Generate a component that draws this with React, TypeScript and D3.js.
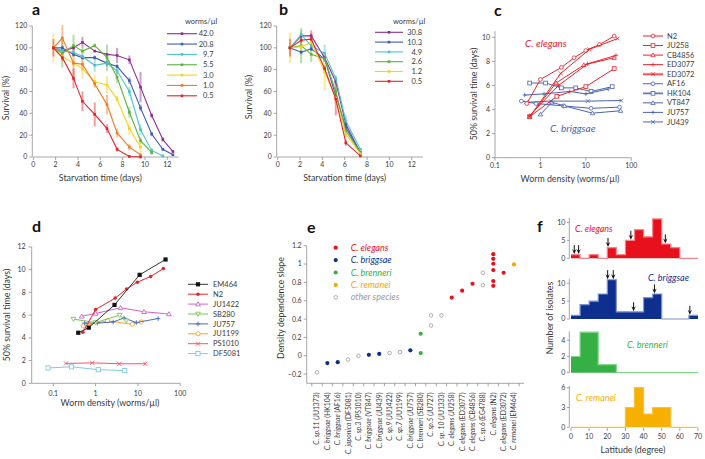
import React from 'react';
import * as d3 from 'd3';

const FONT = "Lato, 'Liberation Sans', Arial, sans-serif";
const AXIS = '#8f8f8f';
const TXT = '#3a3a3a';

// ---------- Panel a ----------
const aLabels = ['42.0', '20.8', '9.7', '5.5', '3.0', '1.0', '0.5'];
const aColors = ['#8e2d8f', '#3d5bb6', '#4cc3cb', '#5db43c', '#f4d31b', '#f07b24', '#e4212b'];
const aDays = [1.8, 2.6, 3.6, 4.4, 5.5, 6.6, 7.5, 8.6, 9.6, 10.6, 11.6, 12.5];
const aS420 = [100, 97, 100, 105, 97, 94, 93, 89, 64, 38, 16, 5];
const aS208 = [100, 100, 94, 91, 91, 86, 83, 70, 45, 21, 7, 2];
const aS97 = [100, 97, 96, 92, 84, 86, 79, 60, 25, 6, 1];
const aS55 = [100, 95, 102, 97, 102, 91, 73, 41, 15, 4];
const aS30 = [100, 92, 86, 81, 69, 66, 53, 26, 9];
const aS10 = [100, 109, 86, 85, 67, 48, 22, 9, 2];
const aS05 = [100, 91, 72, 51, 39, 26, 7, 0.5, 0];
const aE420 = [0, 0, 2, 5, 0, 0, 7, 4, 14, 2, 2, 1];
const aE208 = [0, 2, 2, 2, 2, 2, 2, 3, 3, 2, 1, 1];
const aE97 = [0, 2, 2, 3, 6, 3, 3, 4, 5, 2, 1];
const aE55 = [0, 13, 10, 3, 2, 12, 5, 5, 3, 2];
const aE30 = [13, 4, 3, 9, 6, 8, 3, 6, 5];
const aE10 = [0, 12, 13, 6, 3, 9, 4, 3, 1];
const aE05 = [8, 3, 9, 9, 11, 4, 2, 1, 1];

// ---------- Panel b ----------
const bLabels = ['30.8', '10.3', '4.9', '2.6', '1.2', '0.5'];
const bColors = ['#8e2d8f', '#3d5bb6', '#4cc3cb', '#5db43c', '#f4d31b', '#e4212b'];
const bDays = [1.1, 2.1, 3.0, 4.2, 5.2, 6.1, 7.4];
const bS308 = [100, 111, 111, 91, 69, 30, 4];
const bS103 = [100, 96, 99, 90, 56, 27, 4];
const bS49 = [100, 112, 102, 95, 72, 33, 7];
const bS26 = [100, 102, 94, 90, 60, 24, 4];
const bS12 = [100, 101, 105, 78, 54, 21, 3];
const bS05 = [100, 107, 108, 81, 53, 13, 1];
const bE308 = [0, 2, 2, 3, 3, 3, 1];
const bE103 = [0, 2, 2, 3, 3, 3, 1];
const bE49 = [0, 4, 3, 8, 3, 5, 1];
const bE26 = [0, 16, 7, 3, 3, 3, 1];
const bE12 = [14, 4, 3, 17, 5, 3, 1];
const bE05 = [8, 3, 8, 3, 15, 3, 1];

// ---------- Panel c ----------
const cStrains = ['N2', 'JU258', 'CB4856', 'ED3077', 'ED3072', 'AF16', 'HK104', 'VT847', 'JU757', 'JU439'];
const cShapes = ['circle', 'square', 'triangle', 'plus', 'x', 'circle', 'square', 'triangle', 'plus', 'x'];
const cRed = '#e8232c';
const cBlue = '#4a63b3';
const cDensN2 = [0.5, 1, 2.9, 5.5, 10, 20, 42];
const cTimeN2 = [4.5, 6.5, 7.5, 8.3, 8.9, 9.4, 10.1];
const cDensJU258 = [0.58, 2.3, 10, 42];
const cTimeJU258 = [3.4, 5.1, 5.9, 7.4];
const cDensCB4856 = [0.58, 2.2, 9, 42];
const cTimeCB4856 = [3.4, 6.2, 7.7, 8.3];
const cDensED3077 = [0.58, 2.5, 11, 46];
const cTimeED3077 = [3.5, 6.0, 7.8, 8.5];
const cDensED3072 = [0.58, 2.8, 12, 50];
const cTimeED3072 = [3.4, 7.0, 9.0, 9.9];
const cDensAF16 = [0.38, 0.8, 3.2, 13, 55];
const cTimeAF16 = [4.7, 4.5, 4.3, 4.1, 4.2];
const cDensHK104 = [0.58, 1.3, 2.9, 6, 13, 38];
const cTimeHK104 = [6.2, 6.2, 5.8, 5.8, 5.5, 5.9];
const cDensVT847 = [1.0, 1.8, 3.4, 14, 58];
const cTimeVT847 = [3.6, 4.6, 4.3, 3.7, 3.9];
const cDensJU757 = [0.45, 1.2, 4.4, 10, 31];
const cTimeJU757 = [5.2, 5.3, 5.5, 5.3, 5.7];
const cDensJU439 = [0.48, 1.7, 11, 60];
const cTimeJU439 = [4.6, 4.7, 4.7, 4.75];

// ---------- Panel d ----------
const dStrains = ['EM464', 'N2', 'JU1422', 'SB280', 'JU757', 'JU1199', 'PS1010', 'DF5081'];
const dShapes = ['fsquare', 'fcircle', 'triangle', 'tridown', 'plus', 'circle', 'x', 'square'];
const dColors = ['#111111', '#e8232c', '#d363c6', '#7fc24c', '#4b6bbf', '#f2a526', '#ec5a68', '#7fc9e3'];
const dDensEM464 = [0.39, 0.69, 2.8, 11, 45];
const dTimeEM464 = [4.45, 4.9, 6.9, 9.55, 10.9];
const dDensN2 = [0.5, 1.0, 2.9, 5.4, 9.7, 20, 40];
const dTimeN2 = [4.5, 6.5, 7.5, 8.3, 8.9, 9.4, 10.1];
const dDensJU1422 = [0.47, 1.0, 3.9, 14, 54];
const dTimeJU1422 = [5.9, 6.15, 6.65, 6.3, 6.1];
const dDensSB280 = [0.3, 1.0, 3.7, 5.3];
const dTimeSB280 = [5.65, 5.35, 6.0, 5.5];
const dDensJU757 = [0.55, 1.1, 2.6, 4.7, 9.2, 30];
const dTimeJU757 = [5.3, 5.3, 5.4, 5.75, 5.35, 5.7];
const dDensJU1199 = [0.51, 1.9, 7.4, 12];
const dTimeJU1199 = [5.05, 5.5, 5.2, 5.4];
const dDensPS1010 = [0.2, 0.83, 3.6, 15];
const dTimePS1010 = [1.75, 1.8, 1.72, 1.72];
const dDensDF5081 = [0.075, 0.27, 1.16, 4.9];
const dTimeDF5081 = [1.35, 1.45, 1.2, 1.12];

// ---------- Panel e ----------
const eSpecies = ['C. sp.11', 'C. briggsae', 'C. briggsae', 'C. japonica', 'C. sp.3', 'C. briggsae', 'C. briggsae', 'C. sp.9', 'C. sp.7', 'C. briggsae', 'C. brenneri', 'C. sp.5', 'C. sp. 10', 'C. elegans', 'C. elegans', 'C. elegans', 'C. sp.6', 'C. elegans', 'C. elegans', 'C. remanei'];
const eStrains = ['JU1373', 'HK104', 'AF16', 'DF5081', 'PS1010', 'VT847', 'JU439', 'JU1422', 'JU1199', 'JU757', 'SB280', 'JU727', 'JU1333', 'JU258', 'ED3077', 'CB4856', 'EG4788', 'N2', 'ED3072', 'EM464'];
const eGroups = ['other', 'briggsae', 'briggsae', 'other', 'other', 'briggsae', 'briggsae', 'other', 'other', 'briggsae', 'brenneri', 'other', 'other', 'elegans', 'elegans', 'elegans', 'other', 'elegans', 'elegans', 'remanei'];
const eSlopes = [[-0.18], [-0.08], [-0.07], [-0.04], [0.0], [0.01], [0.02], [0.03], [0.04], [0.06], [0.24, 0.03], [0.44, 0.33], [0.44], [0.635], [0.71], [0.785], [0.905, 0.77], [1.108, 1.057, 1.003, 0.934, 0.814, 0.763], [0.905], [0.996]];
const eLegendKeys = ['elegans', 'briggsae', 'brenneri', 'remanei', 'other'];
const eLegendText = ['C. elegans', 'C. briggsae', 'C. brenneri', 'C. remanei', 'other species'];
const eColors: Record<string, string> = { elegans: '#e8101c', briggsae: '#0f2f8e', brenneri: '#35b045', remanei: '#f6a800', other: '#9a9a9a' };
const eTicks = [1.2, 1, 0.8, 0.6, 0.4, 0.2, 0, -0.2];
const eTickLabels = ['1.2', '1', '0.8', '0.6', '0.4', '0.2', '0', '\u22120.2'];

// ---------- Panel f ----------
const fBinStarts = [0, 5, 10, 15, 20, 25, 30, 35, 40, 45, 50, 55, 60, 65];
const fElegans = [1, 0, 1, 0, 3, 1, 5, 8, 6, 11, 4, 3, 0, 0];
const fBriggsae = [1, 4, 5, 7, 11, 2, 2, 2, 6, 7, 0, 0, 0, 1];
const fBrenneri = [2, 5, 5, 1, 1, 0, 0, 0, 0, 0, 0, 0, 0, 0];
const fRemanei = [0, 0, 0, 0, 0, 0, 3, 6, 2, 3, 3, 0, 0, 0];
const fElegansArrows = [1.8, 4.2, 20.4, 33, 52];
const fBriggsaeArrows = [20.2, 23.3, 34.5, 46, 65.5];
const fLatTicks = [0, 10, 20, 30, 40, 50, 60, 70];

function Marker({ shape, x, y, color, size = 4, sw = 0.9 }: any) {
  const h = size / 2;
  switch (shape) {
    case 'fsquare':
      return <rect x={x - h} y={y - h} width={size} height={size} fill={color} />;
    case 'square':
      return <rect x={x - h} y={y - h} width={size} height={size} fill="white" stroke={color} strokeWidth={sw} />;
    case 'fcircle':
      return <circle cx={x} cy={y} r={h} fill={color} />;
    case 'circle':
      return <circle cx={x} cy={y} r={h} fill="white" stroke={color} strokeWidth={sw} />;
    case 'triangle':
      return <path d={`M${x},${y - h * 1.1}L${x + h * 1.15},${y + h * 0.85}L${x - h * 1.15},${y + h * 0.85}Z`} fill="white" stroke={color} strokeWidth={sw} />;
    case 'tridown':
      return <path d={`M${x},${y + h * 1.1}L${x + h * 1.15},${y - h * 0.85}L${x - h * 1.15},${y - h * 0.85}Z`} fill="white" stroke={color} strokeWidth={sw} />;
    case 'plus':
      return <path d={`M${x - h * 1.1},${y}H${x + h * 1.1}M${x},${y - h * 1.1}V${y + h * 1.1}`} stroke={color} strokeWidth={sw} fill="none" />;
    case 'x':
      return <path d={`M${x - h},${y - h}L${x + h},${y + h}M${x - h},${y + h}L${x + h},${y - h}`} stroke={color} strokeWidth={sw} fill="none" />;
    default:
      return null;
  }
}

function XAxis({ scale, y, ticks, labels, from, to, fs = 7, tickLen = 3, labelDy = 10 }: any) {
  return (
    <g>
      <line x1={scale(from)} x2={scale(to)} y1={y} y2={y} stroke={AXIS} strokeWidth={0.8} />
      {ticks.map((t: number, i: number) => (
        <g key={i}>
          <line x1={scale(t)} x2={scale(t)} y1={y} y2={y + tickLen} stroke={AXIS} strokeWidth={0.8} />
          <text x={scale(t)} y={y + labelDy} textAnchor="middle" fontSize={fs} fill={TXT}>{labels[i]}</text>
        </g>
      ))}
    </g>
  );
}

function YAxis({ scale, x, ticks, labels, from, to, fs = 7, tickLen = 3, gap = 2 }: any) {
  return (
    <g>
      <line x1={x} x2={x} y1={scale(from)} y2={scale(to)} stroke={AXIS} strokeWidth={0.8} />
      {ticks.map((t: number, i: number) => (
        <g key={i}>
          <line x1={x - tickLen} x2={x} y1={scale(t)} y2={scale(t)} stroke={AXIS} strokeWidth={0.8} />
          <text x={x - tickLen - gap} y={scale(t)} dy="0.35em" textAnchor="end" fontSize={fs} fill={TXT}>{labels[i]}</text>
        </g>
      ))}
    </g>
  );
}

function VLabel({ x, y, text, fs = 9 }: any) {
  return (
    <text transform={`translate(${x},${y}) rotate(-90)`} textAnchor="middle" fontSize={fs} fill={TXT}>{text}</text>
  );
}

function PanelLetter({ x, y, t }: any) {
  return <text x={x} y={y} fontSize={16} fontWeight="bold" fill="#111">{t}</text>;
}

function SurvivalPanel({ x0, days, series, errors, colors, labels, legend }: any) {
  const x = d3.scaleLinear().domain([0, 13]).range([x0, x0 + 145.2]);
  const y = d3.scaleLinear().domain([0, 120]).range([157, 26]);
  const line = d3.line<number>().x((_, i) => x(days[i])).y((d) => y(d));
  const ticksX = [0, 2, 4, 6, 8, 10, 12];
  const ticksY = [0, 20, 40, 60, 80, 100, 120];
  return (
    <g>
      <YAxis scale={y} x={x0 - 1} ticks={ticksY} labels={ticksY.map(String)} from={0} to={120} />
      <XAxis scale={x} y={157} ticks={ticksX} labels={ticksX.map(String)} from={0} to={13} />
      {series.map((s: number[], k: number) => (
        <g key={'e' + k}>
          {s.map((v, i) =>
            errors[k][i] > 0 ? (
              <line key={i} x1={x(days[i])} x2={x(days[i])} y1={y(v - errors[k][i])} y2={y(v + errors[k][i])} stroke={colors[k]} strokeOpacity={0.45} strokeWidth={2} />
            ) : null
          )}
        </g>
      ))}
      {series.map((s: number[], k: number) => (
        <g key={'s' + k}>
          <path d={line(s) || ''} fill="none" stroke={colors[k]} strokeWidth={1.1} />
          {s.map((v, i) => (
            <rect key={i} x={x(days[i]) - 1.3} y={y(v) - 1.3} width={2.6} height={2.6} fill={colors[k]} />
          ))}
        </g>
      ))}
      <text x={legend.titleX} y={23.5} fontSize={7.5} fill={TXT}>worms/µl</text>
      {labels.map((lab: string, k: number) => {
        const ly = legend.y0 + legend.dy * k;
        return (
          <g key={'l' + k}>
            <line x1={legend.lx0} x2={legend.lx1} y1={ly} y2={ly} stroke={colors[k]} strokeWidth={1.1} />
            <rect x={(legend.lx0 + legend.lx1) / 2 - 1.3} y={ly - 1.3} width={2.6} height={2.6} fill={colors[k]} />
            <text x={legend.tx} y={ly} dy="0.35em" textAnchor="end" fontSize={7.5} fill={TXT}>{lab}</text>
          </g>
        );
      })}
      <text x={x(6)} y={180.5} textAnchor="middle" fontSize={8.8} fill={TXT}>Starvation time (days)</text>
    </g>
  );
}

function PanelC() {
  const x = d3.scaleLog().domain([0.1, 100]).range([495, 631.3]);
  const y = d3.scaleLinear().domain([0, 10.5]).range([157.7, 157.7 - 10.5 * 12.04]);
  const dens = [cDensN2, cDensJU258, cDensCB4856, cDensED3077, cDensED3072, cDensAF16, cDensHK104, cDensVT847, cDensJU757, cDensJU439];
  const times = [cTimeN2, cTimeJU258, cTimeCB4856, cTimeED3077, cTimeED3072, cTimeAF16, cTimeHK104, cTimeVT847, cTimeJU757, cTimeJU439];
  const yt = [0, 2, 4, 6, 8, 10];
  const order = [5, 6, 7, 8, 9, 0, 1, 2, 3, 4];
  return (
    <g>
      <YAxis scale={y} x={495} ticks={yt} labels={yt.map(String)} from={0} to={10.5} />
      <XAxis scale={x} y={157.7} ticks={[0.1, 1, 10, 100]} labels={['0.1', '1', '10', '100']} from={0.1} to={100} />
      {order.map((k) => {
        const col = k < 5 ? cRed : cBlue;
        const pts = dens[k].map((d, i) => [x(d), y(times[k][i])] as [number, number]);
        return (
          <g key={k}>
            <path d={d3.line()(pts) || ''} fill="none" stroke={col} strokeWidth={1} />
            {pts.map((p, i) => (
              <Marker key={i} shape={cShapes[k]} x={p[0]} y={p[1]} color={col} size={3.8} sw={0.8} />
            ))}
          </g>
        );
      })}
      <text x={525} y={46.5} fontSize={10} fontStyle="italic" fill={cRed}>C. elegans</text>
      <text x={550} y={131.5} fontSize={10} fontStyle="italic" fill={cBlue}>C. briggsae</text>
      {cStrains.map((s, k) => {
        const ly = 36 + 9.55 * k;
        const col = k < 5 ? cRed : cBlue;
        return (
          <g key={s}>
            {(k === 4 || k === 6) && <line x1={643} x2={663} y1={ly} y2={ly} stroke={col} strokeOpacity={0.3} strokeWidth={3} />}
            <line x1={643} x2={663} y1={ly} y2={ly} stroke={col} strokeWidth={1} />
            <Marker shape={cShapes[k]} x={653} y={ly} color={col} size={3.8} sw={0.8} />
            <text x={667} y={ly} dy="0.35em" fontSize={7.5} fill={TXT}>{s}</text>
          </g>
        );
      })}
      <VLabel x={477} y={94} text="50% survival time (days)" fs={8.8} />
      <text x={570} y={182} textAnchor="middle" fontSize={8.8} fill={TXT}>Worm density (worms/µl)</text>
    </g>
  );
}

function PanelD() {
  const x = d3.scaleLog().domain([0.0309, 100]).range([31.7, 180.2]);
  const y = d3.scaleLinear().domain([0, 12]).range([383.3, 247]);
  const dens = [dDensEM464, dDensN2, dDensJU1422, dDensSB280, dDensJU757, dDensJU1199, dDensPS1010, dDensDF5081];
  const times = [dTimeEM464, dTimeN2, dTimeJU1422, dTimeSB280, dTimeJU757, dTimeJU1199, dTimePS1010, dTimeDF5081];
  const yt = [0, 2, 4, 6, 8, 10, 12];
  const order = [7, 6, 5, 4, 3, 2, 1, 0];
  return (
    <g>
      <YAxis scale={y} x={31.7} ticks={yt} labels={yt.map(String)} from={0} to={12} gap={3} />
      <XAxis scale={x} y={383.3} ticks={[0.1, 1, 10, 100]} labels={['0.1', '1', '10', '100']} from={0.0309} to={100} labelDy={13} />
      {order.map((k) => {
        const col = dColors[k];
        const pts = dens[k].map((d, i) => [x(d), y(times[k][i])] as [number, number]);
        return (
          <g key={k}>
            <path d={d3.line()(pts) || ''} fill="none" stroke={k === 0 ? '#333' : col} strokeWidth={1} />
            {pts.map((p, i) => (
              <Marker key={i} shape={dShapes[k]} x={p[0]} y={p[1]} color={col} size={dShapes[k] === 'fcircle' ? 3.6 : 4.2} sw={0.9} />
            ))}
          </g>
        );
      })}
      {dStrains.map((s, k) => {
        const ly = 284.3 + 9.9 * k;
        return (
          <g key={s}>
            <line x1={188} x2={208} y1={ly} y2={ly} stroke={k === 0 ? '#333' : dColors[k]} strokeWidth={1} />
            <Marker shape={dShapes[k]} x={198} y={ly} color={dColors[k]} size={dShapes[k] === 'fcircle' ? 3.6 : 4.2} sw={0.9} />
            <text x={213} y={ly} dy="0.35em" fontSize={7.5} fill={TXT}>{s}</text>
          </g>
        );
      })}
      <VLabel x={10} y={315} text="50% survival time (days)" fs={8.8} />
      <text x={110} y={406} textAnchor="middle" fontSize={8.8} fill={TXT}>Worm density (worms/µl)</text>
    </g>
  );
}

function PanelE() {
  const x = d3.scalePoint<string>().domain(eStrains).range([317, 514]);
  const y = d3.scaleLinear().domain([-0.3, 1.2]).range([383.3, 245.7]);
  const step = x.step();
  const tickXs = eStrains.map((s) => (x(s) as number) - step / 2).concat([(x(eStrains[eStrains.length - 1]) as number) + step / 2]);
  return (
    <g>
      <YAxis scale={y} x={306.7} ticks={eTicks} labels={eTickLabels} from={-0.3} to={1.2} />
      <line x1={306.7} x2={524} y1={383.3} y2={383.3} stroke={AXIS} strokeWidth={0.8} />
      {tickXs.map((tx, i) => (
        <line key={i} x1={tx} x2={tx} y1={383.3} y2={386.3} stroke={AXIS} strokeWidth={0.8} />
      ))}
      {eStrains.map((s, i) => {
        const cx = x(s) as number;
        const g = eGroups[i];
        return (
          <g key={s}>
            {eSlopes[i].map((v, j) =>
              g === 'other' ? (
                <circle key={j} cx={cx} cy={y(v)} r={1.8} fill="white" stroke={eColors.other} strokeWidth={0.8} />
              ) : (
                <circle key={j} cx={cx} cy={y(v)} r={2.1} fill={eColors[g]} />
              )
            )}
            <text transform={`translate(${cx + 2.4},392.5) rotate(-90)`} textAnchor="end" fontSize={6.8} fill={TXT}>
              <tspan fontStyle="italic">{eSpecies[i]}</tspan>
              <tspan>{' (' + s + ')'}</tspan>
            </text>
          </g>
        );
      })}
      {eLegendKeys.map((k, i) => {
        const ly = 247.7 + 12.4 * i;
        return (
          <g key={k}>
            {k === 'other' ? (
              <circle cx={335.7} cy={ly} r={1.8} fill="white" stroke={eColors.other} strokeWidth={0.8} />
            ) : (
              <circle cx={335.7} cy={ly} r={2.1} fill={eColors[k]} />
            )}
            <text x={350.7} y={ly} dy="0.35em" fontSize={9} fontStyle="italic" fill={eColors[k]}>{eLegendText[i]}</text>
          </g>
        );
      })}
      <VLabel x={284} y={308} text="Density dependence slope" fs={8.8} />
    </g>
  );
}

const fX = d3.scaleLinear().domain([0, 70]).range([571, 698]);

function Hist({ values, y, fill, stroke, ticks, top, label, lx, ly, arrows }: any) {
  const pts: [number, number][] = fBinStarts.map((b, i) => [b, values[i]] as [number, number]);
  pts.push([70, values[values.length - 1]]);
  const area = d3.area<[number, number]>().x((d) => fX(d[0])).y0(y(0)).y1((d) => y(d[1])).curve(d3.curveStepAfter);
  const line = d3.line<[number, number]>().x((d) => fX(d[0])).y((d) => y(d[1])).curve(d3.curveStepAfter);
  return (
    <g>
      <YAxis scale={y} x={569.3} ticks={ticks} labels={ticks.map(String)} from={0} to={top} tickLen={2.5} gap={1.5} />
      <path d={area(pts) || ''} fill={fill} />
      <path d={line(pts) || ''} fill="none" stroke={stroke} strokeWidth={1.2} />
      {(arrows || []).map((lat: number, i: number) => {
        const v = values[Math.min(13, Math.floor(lat / 5))];
        const ty = y(v) - 0.6;
        const ax = fX(lat);
        return (
          <g key={i}>
            <line x1={ax} x2={ax} y1={ty - 9} y2={ty - 3} stroke="#111" strokeWidth={1} />
            <path d={`M${ax - 2.2},${ty - 5}L${ax},${ty}L${ax + 2.2},${ty - 5}L${ax},${ty - 3.2}Z`} fill="#111" />
          </g>
        );
      })}
      <text x={lx} y={ly} fontSize={9} fontStyle="italic" fill={fill}>{label}</text>
    </g>
  );
}

function PanelF() {
  const y1 = d3.scaleLinear().domain([0, 10]).range([258.3, 222.5]);
  const y2 = d3.scaleLinear().domain([0, 10]).range([319, 283.3]);
  const y3 = d3.scaleLinear().domain([0, 4]).range([372.7, 340.3]);
  const y4 = d3.scaleLinear().domain([0, 6]).range([427.3, 387.7]);
  return (
    <g>
      <Hist values={fElegans} y={y1} fill="#e8101c" stroke="#f3858b" ticks={[0, 5, 10]} top={11.3} label="C. elegans" lx={575} ly={232} arrows={fElegansArrows} />
      <Hist values={fBriggsae} y={y2} fill="#0f2f8e" stroke="#8094cf" ticks={[0, 5, 10]} top={11.3} label="C. briggsae" lx={648} ly={280.5} arrows={fBriggsaeArrows} />
      <Hist values={fBrenneri} y={y3} fill="#35b045" stroke="#86d68b" ticks={[0, 2, 4]} top={5.1} label="C. brenneri" lx={627} ly={348} />
      <Hist values={fRemanei} y={y4} fill="#f6b000" stroke="#f8c23c" ticks={[0, 3, 6]} top={6.3} label="C. remanei" lx={576} ly={400.5} />
      {fLatTicks.map((t) => (
        <g key={t}>
          <line x1={fX(t)} x2={fX(t)} y1={428} y2={431} stroke={AXIS} strokeWidth={0.8} />
          <text x={fX(t)} y={438.8} textAnchor="middle" fontSize={7} fill={TXT}>{t}</text>
        </g>
      ))}
      <VLabel x={553} y={318} text="Number of isolates" fs={8.8} />
      <text x={633} y={453} textAnchor="middle" fontSize={8.8} fill={TXT}>Latitude (degree)</text>
    </g>
  );
}

export default function App() {
  return (
    <svg width={705} height={459} viewBox="0 0 705 459" style={{ position: 'absolute', left: 0, top: 0, background: 'white' }} fontFamily={FONT}>
      <rect width={705} height={459} fill="white" />
      <PanelLetter x={32} y={15} t="a" />
      <PanelLetter x={279} y={15} t="b" />
      <PanelLetter x={494} y={15.5} t="c" />
      <PanelLetter x={32} y={232} t="d" />
      <PanelLetter x={307} y={233} t="e" />
      <PanelLetter x={537} y={232} t="f" />
      <SurvivalPanel
        x0={33.3}
        days={aDays}
        series={[aS420, aS208, aS97, aS55, aS30, aS10, aS05]}
        errors={[aE420, aE208, aE97, aE55, aE30, aE10, aE05]}
        colors={aColors}
        labels={aLabels}
        legend={{ titleX: 185, lx0: 167, lx1: 197, tx: 213.5, y0: 33.7, dy: 10.35 }}
      />
      <SurvivalPanel
        x0={277.7}
        days={bDays}
        series={[bS308, bS103, bS49, bS26, bS12, bS05]}
        errors={[bE308, bE103, bE49, bE26, bE12, bE05]}
        colors={bColors}
        labels={bLabels}
        legend={{ titleX: 393, lx0: 375, lx1: 403, tx: 422, y0: 32.3, dy: 9.8 }}
      />
      <VLabel x={9} y={98} text="Survival (%)" fs={8.8} />
      <VLabel x={252} y={97} text="Survival (%)" fs={8.8} />
      <PanelC />
      <PanelD />
      <PanelE />
      <PanelF />
    </svg>
  );
}
